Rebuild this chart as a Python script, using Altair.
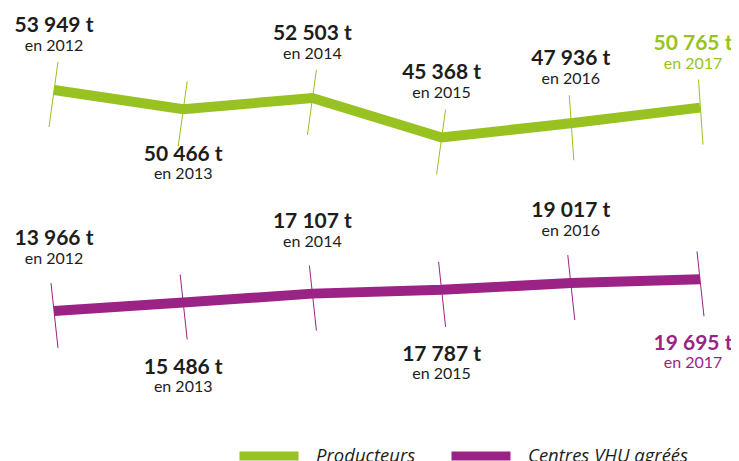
import altair as alt
import pandas as pd

years = [2012, 2013, 2014, 2015, 2016, 2017]
producteurs = [53949, 50466, 52503, 45368, 47936, 50765]
centres_vhu = [13966, 15486, 17107, 17787, 19017, 19695]
series_names = ["Producteurs", "Centres VHU agréés"]
colors = ["#97c221", "#9b2385"]
text_color = "#1d1d1b"

rows = []
for s, vals in zip(series_names, [producteurs, centres_vhu]):
    for yr, v in zip(years, vals):
        if s == "Producteurs":
            side = "below" if yr == 2013 else "above"
        else:
            side = "below" if yr % 2 == 1 else "above"
        rows.append({
            "series": s, "year": yr, "value": v,
            "label": f"{v:,}".replace(",", " ") + " t",
            "year_label": f"en {yr}",
            "side": side,
        })
df = pd.DataFrame(rows)

W, H = 723, 453
xs = alt.Scale(domain=[2011.644, 2017.240], nice=False, zero=False)
ys = alt.Scale(domain=[-13180, 68790], nice=False, zero=False)
cs = alt.Scale(domain=series_names, range=colors)

base = alt.Chart(df)
X = alt.X("year:Q", scale=xs, axis=None)
Y = alt.Y("value:Q", scale=ys, axis=None)

line = base.mark_line(strokeWidth=10, strokeCap="butt").encode(
    x=X, y=Y,
    color=alt.Color("series:N", scale=cs, sort=series_names, legend=alt.Legend(
        title=None, orient="none", legendX=227, legendY=414, direction="horizontal",
        symbolType="stroke", symbolSize=3481, symbolStrokeWidth=9,
        labelFont="Open Sans", labelFontStyle="italic", labelFontSize=18.5,
        labelColor=text_color, labelOffset=13, columnPadding=17, padding=0,
        labelLimit=300,
    )),
)

def tick(filter_expr, xo, x2o):
    return base.transform_filter(filter_expr).mark_rule(
        strokeWidth=1, yOffset=-28, y2Offset=37, xOffset=xo, x2Offset=x2o
    ).encode(
        x=X, x2="year:Q", y=Y, y2="value:Q",
        color=alt.Color("series:N", scale=cs, legend=None),
    )

ticks = [
    tick("datum.series == 'Producteurs' && datum.year <= 2015", 4, -5),
    tick("datum.series == 'Producteurs' && datum.year >= 2016", -1.5, 3),
    tick("datum.series != 'Producteurs'", -3, 4),
]

tcolor = alt.condition(
    "datum.year == 2017",
    alt.Color("series:N", scale=cs, legend=None),
    alt.value(text_color),
)

offsets = {
    ("Producteurs", "above"): (-58, -39),
    ("Producteurs", "below"): (52, 70),
    ("Centres VHU agréés", "above"): (-66, -47),
    ("Centres VHU agréés", "below"): (71, 89),
}

texts = []
for (s, side), (dv, dyr) in offsets.items():
    for last in (False, True):
        f = f"datum.series == '{s}' && datum.side == '{side}' && datum.year {'==' if last else '!='} 2017"
        dx = -7 if last else 0
        texts.append(base.transform_filter(f).mark_text(
            dy=dv, dx=dx, baseline="alphabetic", align="center", font="Lato",
            fontWeight="bold", fontSize=21,
        ).encode(x=X, y=Y, text="label:N", color=tcolor))
        texts.append(base.transform_filter(f).mark_text(
            dy=dyr, dx=dx, baseline="alphabetic", align="center", font="Lato",
            fontSize=16,
        ).encode(x=X, y=Y, text="year_label:N", color=tcolor))

chart = alt.layer(line, *ticks, *texts).properties(
    width=W, height=H, padding=0,
    autosize=alt.AutoSizeParams(type="none"),
    background="white",
).configure_view(stroke=None)

chart.save("out.html", embed_options={"renderer": "svg", "actions": False})
